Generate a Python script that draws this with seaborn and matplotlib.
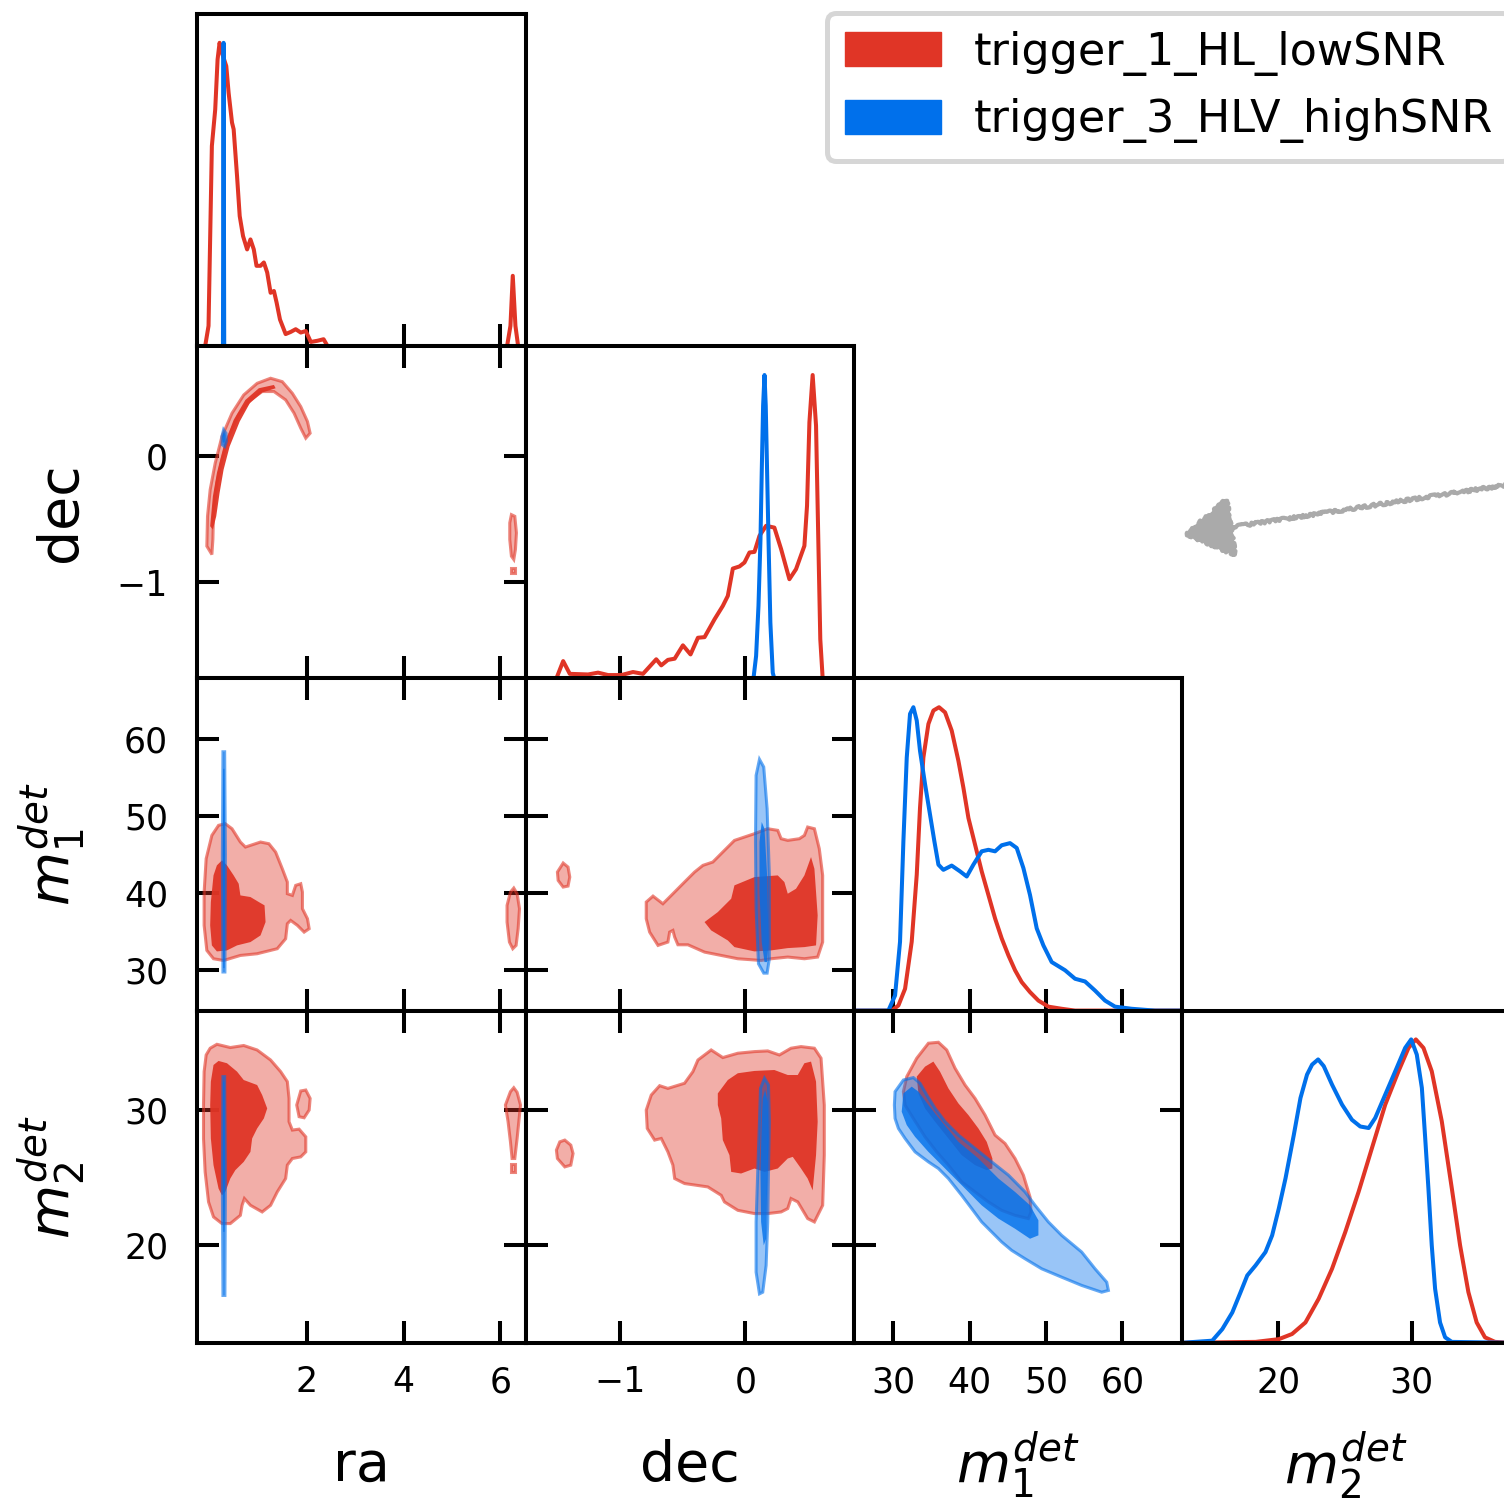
import matplotlib
matplotlib.use("Agg")
import matplotlib.pyplot as plt
import seaborn as sns
import numpy as np
import pandas as pd
from matplotlib.colors import to_rgba
from matplotlib.patches import Patch, FancyArrowPatch

sns.set_style("white")
plt.rcParams["font.family"] = ["DejaVu Sans"]
plt.rcParams["mathtext.fontset"] = "dejavusans"
plt.rcParams["axes.edgecolor"] = "black"
plt.rcParams["xtick.color"] = "black"
plt.rcParams["ytick.color"] = "black"
plt.rcParams["text.color"] = "black"
plt.rcParams["axes.labelcolor"] = "black"

RED = "#e03526"
BLUE = "#0070eb"
series_labels = ["trigger_1_HL_lowSNR", "trigger_3_HLV_highSNR"]

axis_labels = ["ra", "dec", r"$m_1^{det}$", r"$m_2^{det}$"]
limits = [(-0.26, 6.52), (-1.758, 0.865), (24.8, 67.8), (12.8, 37.35)]
tick_values = [[2, 4, 6], [-1, 0], [30, 40, 50, 60], [20, 30]]

# ---------------- 1D marginal densities (x, relative density) ----------------
ra_red = [(-0.26, 0), (-0.098, 0), (-0.028, 0.067), (0.041, 0.660), (0.110, 0.780), (0.159, 0.945),
          (0.200, 1.0), (0.249, 0.967), (0.339, 0.923), (0.387, 0.835), (0.457, 0.737), (0.491, 0.715),
          (0.561, 0.561), (0.616, 0.429), (0.685, 0.363), (0.769, 0.319), (0.838, 0.352), (0.907, 0.319),
          (0.963, 0.265), (1.046, 0.265), (1.115, 0.276), (1.184, 0.243), (1.254, 0.176), (1.323, 0.182),
          (1.378, 0.144), (1.448, 0.088), (1.565, 0.040), (1.669, 0.047), (1.773, 0.056), (1.877, 0.045),
          (1.981, 0.050), (2.085, 0.014), (2.224, 0.018), (2.349, 0.023), (2.432, 0), (6.139, 0),
          (6.209, 0.067), (6.257, 0.232), (6.312, 0.067), (6.368, 0), (6.52, 0)]
ra_blue = [(-0.26, 0), (0.270, 0), (0.283, 1.0), (0.296, 0), (6.52, 0)]

dec_red = [(-1.60, 0), (-1.511, 0), (-1.457, 0.057), (-1.404, 0.015), (-1.258, 0.013), (-1.178, 0.019),
           (-1.098, 0.011), (-0.992, 0.011), (-0.899, 0.021), (-0.819, 0.015), (-0.713, 0.063),
           (-0.673, 0.043), (-0.620, 0.061), (-0.566, 0.065), (-0.500, 0.109), (-0.439, 0.079),
           (-0.380, 0.134), (-0.327, 0.136), (-0.247, 0.195), (-0.181, 0.239), (-0.141, 0.272),
           (-0.101, 0.362), (-0.048, 0.369), (-0.008, 0.382), (0.032, 0.415), (0.072, 0.417),
           (0.112, 0.470), (0.165, 0.503), (0.231, 0.497), (0.285, 0.426), (0.351, 0.327),
           (0.404, 0.360), (0.471, 0.437), (0.492, 0.569), (0.511, 0.844), (0.537, 1.0),
           (0.564, 0.833), (0.582, 0.459), (0.598, 0.129), (0.617, 0), (0.87, 0)]
dec_blue = [(0.064, 0), (0.085, 0.074), (0.104, 0.239), (0.120, 0.459), (0.130, 0.679), (0.141, 0.899),
            (0.152, 1.0), (0.162, 0.899), (0.173, 0.679), (0.184, 0.459), (0.199, 0.184), (0.218, 0.019),
            (0.23, 0)]

m1_red = [(24.8, 0), (29.78, 0), (30.66, 0.017), (31.53, 0.072), (32.40, 0.227), (33.06, 0.448),
          (33.49, 0.669), (33.93, 0.834), (34.59, 0.945), (35.24, 0.989), (35.98, 1.0), (36.77, 0.983),
          (37.64, 0.923), (38.52, 0.823), (39.17, 0.735), (39.83, 0.635), (40.70, 0.547), (41.57, 0.459),
          (42.45, 0.381), (43.32, 0.304), (44.19, 0.238), (45.07, 0.182), (45.94, 0.133), (46.81, 0.094),
          (47.90, 0.061), (49.0, 0.033), (50.31, 0.013), (52.05, 0.006), (53.80, 0), (67.8, 0)]
m1_blue = [(24.8, 0), (29.34, 0), (30.22, 0.050), (30.87, 0.227), (31.31, 0.558), (31.75, 0.834),
           (32.18, 0.978), (32.62, 1.0), (33.06, 0.956), (33.49, 0.856), (34.15, 0.746), (34.80, 0.646),
           (35.37, 0.558), (35.90, 0.481), (36.55, 0.464), (37.64, 0.478), (38.73, 0.459), (39.61, 0.442),
           (40.48, 0.481), (41.57, 0.525), (42.45, 0.530), (43.32, 0.525), (44.19, 0.545), (45.28, 0.552),
           (46.16, 0.536), (47.03, 0.470), (47.90, 0.381), (48.78, 0.271), (49.65, 0.215), (50.74, 0.160),
           (52.49, 0.133), (53.80, 0.105), (55.11, 0.096), (56.42, 0.066), (57.73, 0.033), (59.04, 0.013),
           (61.22, 0.006), (64.28, 0), (67.8, 0)]

m2_red = [(12.8, 0), (18.31, 0.003), (20.05, 0.012), (21.04, 0.029), (22.04, 0.067), (23.03, 0.145),
          (24.03, 0.244), (25.02, 0.365), (26.02, 0.498), (27.01, 0.641), (28.01, 0.785), (29.0, 0.895),
          (29.75, 0.972), (30.30, 1.0), (30.87, 0.972), (31.49, 0.895), (32.24, 0.730), (32.99, 0.509),
          (33.61, 0.321), (34.23, 0.167), (34.85, 0.067), (35.47, 0.018), (36.22, 0.003), (37.35, 0)]
m2_blue = [(12.8, 0), (15.07, 0.007), (15.82, 0.045), (16.57, 0.100), (17.19, 0.167), (17.69, 0.222),
           (18.31, 0.255), (19.05, 0.299), (19.55, 0.354), (20.05, 0.443), (20.55, 0.542), (21.17, 0.685),
           (21.67, 0.807), (22.16, 0.884), (22.54, 0.917), (22.99, 0.934), (23.41, 0.912), (24.03, 0.851),
           (24.78, 0.785), (25.52, 0.735), (26.14, 0.713), (26.77, 0.708), (27.26, 0.741), (28.01, 0.818),
           (28.76, 0.895), (29.50, 0.972), (29.95, 1.0), (30.37, 0.950), (30.75, 0.840), (31.0, 0.674),
           (31.24, 0.509), (31.49, 0.321), (31.74, 0.178), (32.11, 0.067), (32.49, 0.018), (32.99, 0.003),
           (37.35, 0)]

# ---------------- 2D credible regions (outer = 90%, inner = 50%) ----------------
ra_dec_red_outer = [(-0.063, -0.714), (-0.049, -0.478), (0.006, -0.268), (0.110, -0.058), (0.249, 0.152),
                    (0.457, 0.336), (0.699, 0.480), (0.976, 0.572), (1.254, 0.612), (1.496, 0.585),
                    (1.704, 0.493), (1.877, 0.388), (2.016, 0.270), (2.071, 0.178), (1.981, 0.139),
                    (1.877, 0.218), (1.739, 0.336), (1.565, 0.441), (1.323, 0.507), (1.080, 0.507),
                    (0.838, 0.441), (0.595, 0.323), (0.387, 0.152), (0.249, -0.031), (0.145, -0.215),
                    (0.075, -0.451), (0.062, -0.661), (0.041, -0.780)]
ra_dec_red_inner = [(0.006, -0.556), (0.062, -0.320), (0.145, -0.136), (0.283, 0.073), (0.491, 0.283),
                    (0.734, 0.441), (1.011, 0.533), (1.323, 0.559), (1.358, 0.533), (1.080, 0.499),
                    (0.824, 0.415), (0.616, 0.270), (0.408, 0.073), (0.283, -0.110), (0.200, -0.294),
                    (0.131, -0.478), (0.062, -0.583)]
ra_dec_red_island = [(6.229, -0.465), (6.299, -0.478), (6.333, -0.609), (6.312, -0.740), (6.278, -0.819),
                     (6.229, -0.793), (6.195, -0.661), (6.195, -0.530)]
ra_dec_red_dot = [(6.229, -0.885), (6.299, -0.885), (6.299, -0.924), (6.229, -0.924)]
ra_dec_blue_outer = [(0.283, 0.205), (0.332, 0.178), (0.339, 0.113), (0.304, 0.073), (0.256, 0.087),
                     (0.249, 0.152)]
ra_dec_blue_inner = [(0.285, 0.185), (0.318, 0.165), (0.320, 0.120), (0.295, 0.095), (0.268, 0.110),
                     (0.265, 0.155)]

ra_m1_red_outer = [(0.318, 48.99), (0.457, 48.34), (0.630, 46.62), (0.734, 45.97), (1.046, 46.62),
                   (1.219, 46.40), (1.358, 45.32), (1.496, 43.16), (1.600, 41.44), (1.600, 39.93),
                   (1.704, 39.71), (1.773, 41.01), (1.877, 41.22), (1.912, 40.14), (1.912, 37.99),
                   (2.016, 36.69), (2.051, 35.40), (1.947, 34.96), (1.808, 35.83), (1.669, 36.47),
                   (1.600, 36.04), (1.565, 34.10), (1.392, 32.81), (0.976, 32.16), (0.630, 31.94),
                   (0.283, 31.29), (0.075, 31.51), (-0.063, 32.59), (-0.119, 35.83), (-0.119, 40.14),
                   (-0.077, 44.46), (0.041, 47.48), (0.179, 48.78)]
ra_m1_red_inner = [(0.249, 44.24), (0.353, 43.60), (0.491, 42.30), (0.595, 41.22), (0.630, 39.71),
                   (0.838, 39.50), (1.011, 38.85), (1.129, 38.42), (1.150, 36.26), (1.046, 34.53),
                   (0.838, 33.67), (0.561, 33.24), (0.353, 32.59), (0.145, 32.46), (0.041, 33.24),
                   (0.006, 35.83), (0.020, 38.85), (0.075, 42.30), (0.145, 43.60)]
ra_m1_red_island = [(6.209, 40.14), (6.278, 40.66), (6.347, 39.93), (6.396, 37.99), (6.368, 35.40),
                    (6.326, 33.24), (6.257, 32.81), (6.188, 33.67), (6.139, 36.26), (6.139, 38.42)]
ra_m1_blue_outer = [(0.270, 58.3), (0.305, 58.3), (0.320, 45.0), (0.310, 29.8), (0.270, 29.8), (0.258, 45.0)]
ra_m1_blue_inner = [(0.276, 56.1), (0.300, 56.1), (0.310, 45.0), (0.302, 30.3), (0.278, 30.3), (0.268, 45.0)]

ra_m2_red_outer = [(0.006, 34.57), (0.145, 34.86), (0.422, 34.62), (0.699, 34.77), (0.976, 34.44),
                   (1.254, 33.70), (1.462, 32.84), (1.600, 32.10), (1.635, 30.86), (1.635, 29.14),
                   (1.704, 28.52), (1.843, 28.59), (1.981, 28.02), (1.981, 26.91), (1.877, 26.54),
                   (1.704, 26.42), (1.600, 25.93), (1.565, 24.94), (1.392, 23.95), (1.254, 22.96),
                   (1.080, 22.47), (0.838, 22.96), (0.713, 23.46), (0.665, 22.96), (0.630, 22.22),
                   (0.422, 21.61), (0.249, 21.61), (0.075, 22.10), (-0.028, 23.21), (-0.098, 25.43),
                   (-0.132, 27.90), (-0.132, 30.37), (-0.119, 32.84), (-0.077, 34.07)]
ra_m2_red_inner = [(0.075, 33.33), (0.179, 33.63), (0.353, 33.46), (0.561, 32.84), (0.699, 32.22),
                   (0.976, 31.85), (1.080, 31.11), (1.184, 30.12), (1.115, 29.38), (0.976, 28.64),
                   (0.873, 27.90), (0.838, 26.91), (0.699, 26.17), (0.526, 25.56), (0.422, 24.94),
                   (0.318, 23.95), (0.249, 23.70), (0.179, 24.20), (0.075, 25.93), (0.020, 27.90),
                   (0.006, 30.37), (0.020, 32.10)]
ra_m2_red_island = [(6.209, 31.36), (6.278, 31.65), (6.347, 31.31), (6.417, 30.37), (6.382, 29.14),
                    (6.347, 27.90), (6.299, 26.42), (6.243, 26.42), (6.209, 27.65), (6.160, 29.14),
                    (6.105, 30.37)]
ra_m2_red_dot = [(6.229, 25.98), (6.299, 25.98), (6.299, 25.43), (6.229, 25.43)]
ra_m2_red_blob = [(1.877, 31.41), (1.981, 31.48), (2.071, 30.86), (2.051, 30.0), (1.947, 29.43),
                  (1.843, 29.51), (1.794, 30.37)]
ra_m2_blue_outer = [(0.270, 32.47), (0.305, 32.47), (0.320, 24.2), (0.310, 16.30), (0.270, 16.30), (0.258, 24.2)]
ra_m2_blue_inner = [(0.276, 32.1), (0.300, 32.1), (0.310, 26.0), (0.302, 21.0), (0.278, 21.0), (0.268, 26.0)]

dec_m1_red_outer = [(-0.793, 38.85), (-0.739, 39.62), (-0.660, 38.63), (-0.606, 39.50), (-0.487, 41.44),
                    (-0.407, 42.73), (-0.340, 43.60), (-0.261, 44.03), (-0.168, 45.54), (-0.088, 46.83),
                    (0.072, 47.70), (0.178, 48.34), (0.258, 48.13), (0.285, 47.05), (0.338, 46.83),
                    (0.431, 47.05), (0.471, 47.48), (0.497, 48.56), (0.551, 48.34), (0.590, 45.75),
                    (0.617, 42.30), (0.617, 37.99), (0.617, 33.67), (0.577, 31.73), (0.471, 31.51),
                    (0.338, 31.73), (0.205, 31.51), (0.125, 31.29), (-0.061, 31.51), (-0.194, 31.94),
                    (-0.327, 32.37), (-0.460, 33.32), (-0.540, 33.32), (-0.566, 34.32), (-0.580, 35.18),
                    (-0.606, 34.96), (-0.620, 33.67), (-0.699, 33.24), (-0.766, 34.96), (-0.793, 36.69)]
dec_m1_red_inner = [(-0.327, 36.26), (-0.221, 37.55), (-0.114, 39.28), (-0.088, 41.01), (0.072, 42.08),
                    (0.258, 42.30), (0.311, 41.44), (0.338, 39.93), (0.404, 40.57), (0.471, 42.30),
                    (0.524, 44.67), (0.551, 43.16), (0.564, 40.14), (0.577, 37.12), (0.564, 33.24),
                    (0.471, 33.02), (0.338, 32.89), (0.205, 32.59), (0.072, 32.46), (-0.088, 33.02),
                    (-0.141, 33.88), (-0.274, 35.18)]
dec_m1_red_island = [(-1.457, 43.90), (-1.418, 43.38), (-1.404, 42.08), (-1.418, 40.92), (-1.457, 40.79),
                     (-1.497, 41.65), (-1.503, 42.73)]
dec_m1_blue_outer = [(0.112, 57.32), (0.146, 56.33), (0.173, 50.93), (0.191, 42.30), (0.191, 31.51),
                     (0.173, 29.65), (0.146, 29.65), (0.104, 30.86), (0.085, 37.99), (0.080, 46.62),
                     (0.085, 55.25)]
dec_m1_blue_inner = [(0.130, 49.21), (0.152, 48.34), (0.173, 42.30), (0.184, 33.67), (0.173, 31.08),
                     (0.152, 31.08), (0.130, 33.67), (0.112, 40.14), (0.112, 46.62)]

dec_m2_red_outer = [(-0.793, 30.0), (-0.753, 31.11), (-0.686, 31.80), (-0.620, 31.60), (-0.487, 31.98),
                    (-0.420, 32.84), (-0.380, 33.70), (-0.274, 34.44), (-0.181, 33.88), (-0.061, 34.20),
                    (0.072, 34.32), (0.178, 34.37), (0.271, 34.07), (0.364, 34.57), (0.444, 34.69),
                    (0.551, 34.57), (0.604, 33.83), (0.630, 30.37), (0.630, 26.67), (0.617, 22.96),
                    (0.551, 21.73), (0.497, 21.98), (0.418, 23.21), (0.364, 23.46), (0.338, 22.72),
                    (0.285, 22.47), (0.178, 22.35), (0.072, 22.35), (-0.061, 22.59), (-0.168, 23.21),
                    (-0.194, 23.70), (-0.301, 24.32), (-0.487, 24.57), (-0.566, 24.94), (-0.580, 25.93),
                    (-0.620, 26.91), (-0.673, 27.90), (-0.726, 27.78), (-0.785, 28.64)]
dec_m2_red_inner = [(-0.221, 31.23), (-0.141, 32.22), (-0.061, 32.72), (0.072, 32.89), (0.231, 32.96),
                    (0.338, 32.59), (0.418, 32.59), (0.471, 33.46), (0.524, 33.58), (0.564, 32.10),
                    (0.577, 29.14), (0.564, 26.67), (0.537, 24.07), (0.497, 24.94), (0.444, 25.68),
                    (0.378, 26.54), (0.338, 26.42), (0.258, 25.68), (0.152, 25.43), (0.072, 25.68),
                    (-0.035, 25.31), (-0.114, 25.43), (-0.128, 26.67), (-0.181, 27.78), (-0.194, 29.38),
                    (-0.221, 30.37)]
dec_m2_red_island = [(-1.444, 27.78), (-1.396, 27.41), (-1.378, 26.79), (-1.396, 25.93), (-1.444, 25.80),
                     (-1.503, 26.42), (-1.511, 27.04), (-1.484, 27.65)]
dec_m2_blue_outer = [(0.152, 32.35), (0.184, 31.85), (0.191, 29.14), (0.184, 25.43), (0.178, 21.73),
                     (0.165, 18.52), (0.138, 16.54), (0.112, 16.42), (0.085, 18.02), (0.085, 21.73),
                     (0.098, 25.43), (0.112, 29.14), (0.120, 31.60)]
dec_m2_blue_inner = [(0.157, 31.48), (0.178, 30.62), (0.184, 27.90), (0.173, 24.20), (0.165, 20.49),
                     (0.146, 20.0), (0.125, 21.73), (0.120, 25.43), (0.130, 29.14), (0.138, 30.86)]

m1_m2_red_outer = [(31.75, 32.47), (33.06, 33.83), (34.59, 34.94), (35.90, 35.01), (36.99, 34.44),
                   (38.08, 33.09), (39.39, 31.85), (40.70, 30.86), (42.01, 29.63), (43.32, 28.15),
                   (44.63, 27.53), (45.94, 26.42), (47.03, 25.19), (47.90, 23.58), (48.03, 22.47),
                   (47.69, 21.98), (45.94, 22.22), (44.19, 22.59), (42.45, 23.21), (40.70, 23.95),
                   (38.95, 24.69), (37.21, 25.93), (35.68, 26.91), (34.15, 28.02), (32.62, 29.38),
                   (31.53, 30.37), (31.31, 31.36)]
m1_m2_red_inner = [(33.06, 32.47), (34.15, 33.21), (35.24, 33.58), (36.11, 32.84), (37.21, 31.60),
                   (38.52, 30.49), (39.83, 29.63), (41.14, 28.64), (42.23, 27.65), (42.97, 26.42),
                   (42.97, 25.68), (42.23, 25.56), (40.70, 25.93), (38.95, 26.67), (37.21, 27.90),
                   (35.46, 29.14), (34.15, 30.12), (33.28, 31.23)]
m1_m2_blue_outer = [(30.22, 31.36), (31.31, 32.22), (32.62, 32.40), (33.49, 31.98), (34.37, 31.11),
                    (35.46, 30.12), (36.77, 29.14), (38.52, 28.15), (40.70, 27.16), (42.88, 26.17),
                    (45.07, 25.19), (47.25, 23.95), (48.56, 22.96), (50.31, 21.73), (52.05, 20.74),
                    (54.67, 19.51), (56.42, 18.27), (57.95, 17.28), (58.17, 16.67), (57.29, 16.54),
                    (54.67, 17.04), (52.05, 17.65), (49.43, 18.27), (47.25, 19.01), (45.50, 19.63),
                    (44.19, 20.25), (42.88, 20.99), (41.57, 21.73), (40.26, 22.72), (38.95, 23.70),
                    (37.21, 24.94), (35.90, 25.68), (34.59, 26.17), (32.84, 26.91), (31.53, 27.90),
                    (30.66, 28.64), (30.22, 29.38), (30.13, 30.37)]
m1_m2_blue_inner = [(31.31, 31.23), (32.40, 31.73), (33.28, 31.36), (34.59, 30.37), (36.33, 29.14),
                    (38.52, 27.65), (41.14, 26.42), (43.76, 24.94), (45.94, 23.95), (47.90, 22.96),
                    (49.0, 21.85), (49.0, 20.74), (47.90, 20.49), (45.94, 21.23), (43.76, 21.98),
                    (41.57, 22.96), (39.83, 23.95), (38.08, 24.94), (36.33, 25.93), (34.59, 26.91),
                    (32.84, 28.02), (31.75, 28.89), (31.09, 29.88)]

marginals = {0: (ra_red, ra_blue), 1: (dec_red, dec_blue), 2: (m1_red, m1_blue), 3: (m2_red, m2_blue)}
regions = {
    (1, 0): ([ra_dec_red_outer, ra_dec_red_island, ra_dec_red_dot], [ra_dec_red_inner],
             [ra_dec_blue_outer], [ra_dec_blue_inner]),
    (2, 0): ([ra_m1_red_outer, ra_m1_red_island], [ra_m1_red_inner], [ra_m1_blue_outer], [ra_m1_blue_inner]),
    (3, 0): ([ra_m2_red_outer, ra_m2_red_island, ra_m2_red_dot, ra_m2_red_blob], [ra_m2_red_inner],
             [ra_m2_blue_outer], [ra_m2_blue_inner]),
    (2, 1): ([dec_m1_red_outer, dec_m1_red_island], [dec_m1_red_inner], [dec_m1_blue_outer], [dec_m1_blue_inner]),
    (3, 1): ([dec_m2_red_outer, dec_m2_red_island], [dec_m2_red_inner], [dec_m2_blue_outer], [dec_m2_blue_inner]),
    (3, 2): ([m1_m2_red_outer], [m1_m2_red_inner], [m1_m2_blue_outer], [m1_m2_blue_inner]),
}

# ---------------- layout ----------------
FW, FH = 1504, 1501
fig = plt.figure(figsize=(FW / 100, FH / 100), dpi=100)
L0, W0, T0, H0 = 197.3, 328.2, 14.0, 332.2
SPW = 2.9


def fill_region(ax, pts, color, inner):
    xs = [p[0] for p in pts]
    ys = [p[1] for p in pts]
    if inner:
        a = 0.95 if color == RED else 0.8
        ax.fill(xs, ys, facecolor=to_rgba(color, a), edgecolor="none", zorder=3 if color == RED else 5)
    else:
        ax.fill(xs, ys, facecolor=to_rgba(color, 0.4), edgecolor=to_rgba(color, 0.6), lw=2.2,
                zorder=2 if color == RED else 4)


for i in range(4):
    for j in range(i + 1):
        left = (L0 + j * W0) / FW
        bottom = 1 - (T0 + (i + 1) * H0) / FH
        ax = fig.add_axes([left, bottom, W0 / FW, H0 / FH])
        for s in ax.spines.values():
            s.set_linewidth(SPW)
            s.set_color("black")
        ax.set_xlim(*limits[j])
        ax.set_xticks(tick_values[j])
        if i == j:
            red, blue = marginals[i]
            sns.lineplot(x=[p[0] for p in red], y=[p[1] for p in red], ax=ax, color=RED, lw=2.9,
                         estimator=None, sort=False)
            sns.lineplot(x=[p[0] for p in blue], y=[p[1] for p in blue], ax=ax, color=BLUE, lw=2.9,
                         estimator=None, sort=False)
            ax.set_ylim(0, 1.095)
            ax.set_yticks([])
            ax.tick_params(axis="x", direction="in", length=16, width=SPW, labelsize=25, pad=16,
                           bottom=True, top=False, labelbottom=(i == 3))
        else:
            ro, ri, bo, bi = regions[(i, j)]
            for p in ro:
                fill_region(ax, p, RED, False)
            for p in ri:
                fill_region(ax, p, RED, True)
            for p in bo:
                fill_region(ax, p, BLUE, False)
            for p in bi:
                fill_region(ax, p, BLUE, True)
            ax.set_ylim(*limits[i])
            ax.set_yticks(tick_values[i])
            ax.tick_params(axis="x", direction="in", length=16, width=SPW, labelsize=25, pad=16,
                           bottom=True, top=True, labelbottom=(i == 3))
            ax.tick_params(axis="y", direction="in", length=16, width=SPW, labelsize=25, pad=21,
                           left=True, right=True, labelleft=(j == 0))
        ax.set_xlabel("")
        ax.set_ylabel("")
        if i == 3:
            ax.set_xlabel(axis_labels[j], fontsize=40)
            ax.xaxis.set_label_coords(0.5, -0.29 if j < 2 else -0.262)
        if j == 0 and i > 0:
            ax.set_ylabel(axis_labels[i], fontsize=40)
            ax.yaxis.set_label_coords(-0.335, 0.5)

# legend
handles = [Patch(facecolor=RED, edgecolor=RED), Patch(facecolor=BLUE, edgecolor=BLUE)]
leg = fig.legend(handles, series_labels, loc="upper left", bbox_to_anchor=(827 / FW, 1 - 13 / FH),
                 bbox_transform=fig.transFigure, fontsize=32, handlelength=2.16, handleheight=0.8,
                 handletextpad=0.75, labelspacing=0.5, borderpad=0.4, borderaxespad=0, frameon=True,
                 fancybox=True, framealpha=1)
leg.get_frame().set_edgecolor("#d6d6d6")
leg.get_frame().set_linewidth(3.6)

# sketchy annotation arrow
arr = FancyArrowPatch(posA=(1.01, 1 - 483 / FH), posB=(1180 / FW, 1 - 535 / FH), transform=fig.transFigure,
                      arrowstyle="-|>,head_length=0.8,head_width=0.5", mutation_scale=40,
                      color="#aaaaaa", lw=3.0)
arr.set_sketch_params(scale=1.5, length=6, randomness=12)
fig.add_artist(arr)

fig.savefig("out.png", dpi=100)
